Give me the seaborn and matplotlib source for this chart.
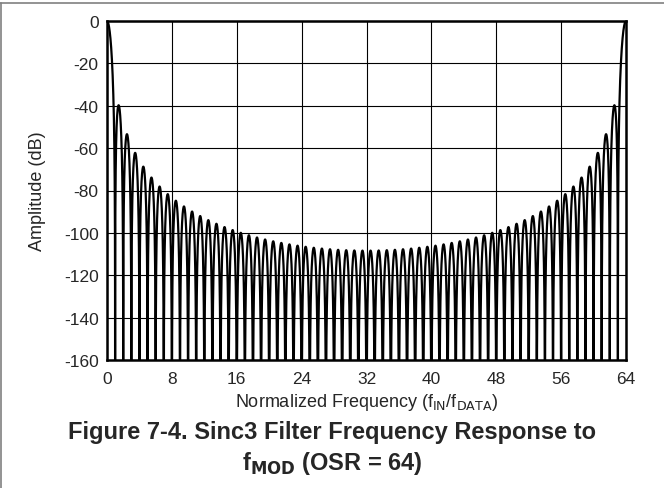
import numpy as np
import pandas as pd
import matplotlib
matplotlib.use("Agg")
import matplotlib.pyplot as plt
import seaborn as sns

# Filter settings shown on the chart
OSR = 64
FILTER_ORDER = 3
x_ticks = [0, 8, 16, 24, 32, 40, 48, 56, 64]
y_ticks = [0, -20, -40, -60, -80, -100, -120, -140, -160]

# Sinc3 response |sin(pi f) / (OSR sin(pi f / OSR))|^3 in dB
freq = np.linspace(0, OSR, OSR * 400 + 1)
with np.errstate(divide="ignore", invalid="ignore"):
    ratio = np.sin(np.pi * freq) / (OSR * np.sin(np.pi * freq / OSR))
ratio[0] = 1.0
ratio[-1] = 1.0
amp_db = 20 * FILTER_ORDER * np.log10(np.abs(ratio) + 1e-30)
amp_db = np.maximum(amp_db, -220)

df = pd.DataFrame({"freq": freq, "amp": amp_db})

sns.set_style("white")
plt.rcParams["font.family"] = ["Liberation Sans", "DejaVu Sans"]
plt.rcParams["axes.unicode_minus"] = False

fig = plt.figure(figsize=(6.64, 4.89), dpi=100)
ax = fig.add_axes([107 / 664, 1 - 361 / 489, (626 - 107) / 664, (361 - 22) / 489])

sns.lineplot(data=df, x="freq", y="amp", color="black", linewidth=1.6, ax=ax)

ax.set_xlim(0, 64)
ax.set_ylim(-160, 0)
ax.set_xticks(x_ticks)
ax.set_yticks(y_ticks)
ax.grid(True, color="black", linewidth=0.8)
ax.set_axisbelow(True)
ax.tick_params(length=0, labelsize=12.5)
ax.tick_params(axis="x", pad=8)
ax.tick_params(axis="y", pad=6)
for s in ax.spines.values():
    s.set_visible(True)
    s.set_color("black")
    s.set_linewidth(1.8)

ax.set_xlabel("Normalized Frequency (f$_{\\mathrm{IN}}$/f$_{\\mathrm{DATA}}$)", fontsize=13)
ax.set_ylabel("Amplitude (dB)", fontsize=13)
ax.xaxis.set_label_coords(0.5, -(392 - 361) / 339)
ax.yaxis.set_label_coords((46 - 107) / 519, 0.5)

fig.text(0.5, 1 - 439 / 489, "Figure 7-4. Sinc3 Filter Frequency Response to",
         ha="center", va="baseline", fontsize=17, fontweight="bold")
fig.text(0.5, 1 - 470 / 489, "f$_{\\mathbf{MOD}}$ (OSR = 64)",
         ha="center", va="baseline", fontsize=17, fontweight="bold")

# page frame lines (top and left)
fig.add_artist(plt.Line2D([0, 1], [1 - 4 / 489, 1 - 4 / 489], color="#808080", linewidth=1.2))
fig.add_artist(plt.Line2D([1 / 664, 1 / 664], [0, 1 - 4 / 489], color="#808080", linewidth=1.2))

fig.savefig("out.png", dpi=100)
